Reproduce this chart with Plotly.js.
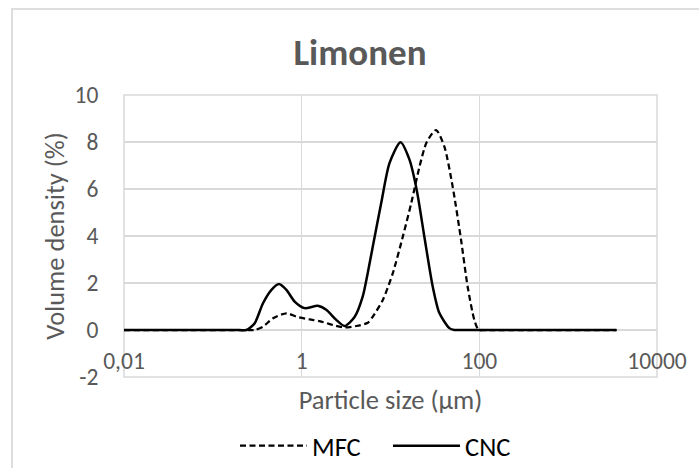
<!DOCTYPE html>
<html>
<head>
<meta charset="utf-8">
<script src="https://cdn.plot.ly/plotly-3.0.1.min.js"></script>
<style>
  html, body { margin: 0; padding: 0; background: #ffffff; overflow: hidden; }
  #wrap { position: relative; width: 699px; height: 468px; overflow: hidden; }
  #chart { position: absolute; left: 0; top: 0; width: 699px; height: 468px; }
  #frame { position: absolute; left: 11px; top: 8px; width: 760px; height: 560px;
           border: 2px solid #dedede; pointer-events: none; }
</style>
</head>
<body>
<div id="wrap">
  <div id="chart"></div>
  <div id="frame"></div>
</div>
<script>
// ---- data (particle size in µm, volume density in %) ----
const mfcSize = [0.01, 0.25, 0.296, 0.367, 0.476, 0.673, 0.872, 1.23, 1.59, 2.25, 3.04, 4.12, 5.56, 6.32, 8.2, 10.6, 13.75, 17.1, 21.2, 25.6, 32.6, 40.4, 50.1, 62.3, 73.9, 87.8, 98.2, 110, 150, 3500];
const mfcVolume = [0, 0, 0, 0.14, 0.5, 0.71, 0.57, 0.45, 0.38, 0.21, 0.11, 0.17, 0.31, 0.57, 1.28, 2.41, 3.97, 5.39, 6.95, 8.0, 8.51, 7.8, 6.1, 3.83, 1.84, 0.43, 0, 0, 0, 0];

const cncSize = [0.01, 0.2, 0.239, 0.296, 0.367, 0.457, 0.556, 0.673, 0.834, 1.08, 1.52, 1.89, 2.45, 3.04, 3.94, 4.89, 5.56, 6.32, 7.86, 9.74, 12.95, 16.35, 19.75, 24.1, 29.9, 35.5, 46.0, 52.4, 60, 80, 3500];
const cncVolume = [0, 0, 0, 0.29, 1.14, 1.71, 1.96, 1.71, 1.21, 0.93, 1.03, 0.86, 0.43, 0.17, 0.55, 1.45, 2.45, 3.55, 5.4, 7.1, 7.99, 7.25, 5.95, 3.95, 1.84, 0.72, 0.08, 0, 0, 0, 0];

const seriesNames = ["MFC", "CNC"];
const xTickVals = [0.01, 1, 100, 10000];
const xTickText = ["0,01", "1", "100", "10000"];
const yTickVals = [-2, 0, 2, 4, 6, 8, 10];
const yTickText = ["-2", "0", "2", "4", "6", "8", "10"];
const chartTitle = "Limonen";
const xTitle = "Particle size (µm)";
const yTitle = "Volume density (%)";

const FONT = "Carlito, Lato, 'Open Sans', sans-serif";
const GRID = "#d9d9d9";
const TXT = "#595959";

const traces = [
  {
    x: mfcSize, y: mfcVolume, name: seriesNames[0], type: "scatter", mode: "lines",
    line: { color: "#000000", width: 2.25, dash: "6px,3.5px", shape: "spline", smoothing: 0.7 },
    hoverinfo: "x+y"
  },
  {
    x: cncSize, y: cncVolume, name: seriesNames[1], type: "scatter", mode: "lines",
    line: { color: "#000000", width: 2.5, shape: "spline", smoothing: 0.7 },
    hoverinfo: "x+y"
  }
];

const layout = {
  width: 699, height: 468,
  margin: { l: 124, r: 42, t: 95, b: 91 },
  paper_bgcolor: "rgba(255,255,255,1)",
  plot_bgcolor: "#ffffff",
  font: { family: FONT, color: TXT, size: 23 },
  title: {
    text: chartTitle,
    font: { family: FONT, size: 37, color: TXT, weight: "bold" },
    xref: "container", x: 0.515, xanchor: "center",
    yref: "container", y: 1 - 52 / 468, yanchor: "middle"
  },
  xaxis: {
    type: "log",
    range: [-2, 4],
    anchor: "free",
    position: 1 / 6,
    tickvals: xTickVals,
    ticktext: xTickText,
    ticks: "outside", ticklen: 10, tickcolor: "rgba(0,0,0,0)",
    showgrid: true, gridcolor: GRID, gridwidth: 1.5,
    showline: false, zeroline: false,
    tickfont: { family: FONT, size: 23.5, color: TXT },
    title: { text: xTitle, font: { family: FONT, size: 26.5, color: TXT }, standoff: 16 }
  },
  yaxis: {
    range: [-2, 10],
    tickvals: yTickVals,
    ticktext: yTickText,
    ticks: "outside", ticklen: 20, tickcolor: "rgba(0,0,0,0)",
    showgrid: true, gridcolor: GRID, gridwidth: 1.5,
    zeroline: true, zerolinecolor: GRID, zerolinewidth: 1.5,
    showline: false,
    tickfont: { family: FONT, size: 23.5, color: TXT },
    title: { text: yTitle, font: { family: FONT, size: 26.5, color: TXT }, standoff: 2 }
  },
  shapes: [
    { type: "rect", xref: "paper", yref: "paper", x0: 0, x1: 1, y0: 0, y1: 1,
      line: { color: GRID, width: 1.5 }, fillcolor: "rgba(0,0,0,0)", layer: "below" }
  ],
  showlegend: true,
  legend: {
    orientation: "h",
    itemwidth: 67,
    entrywidth: 71,
    entrywidthmode: "pixels",
    xref: "container", x: 235 / 699, xanchor: "left",
    yref: "container", y: 1 - 446 / 468, yanchor: "middle",
    font: { family: FONT, size: 26.5, color: "#000000" },
    bgcolor: "rgba(0,0,0,0)"
  }
};

Plotly.newPlot("chart", traces, layout, { staticPlot: true, displayModeBar: false });
</script>
</body>
</html>
